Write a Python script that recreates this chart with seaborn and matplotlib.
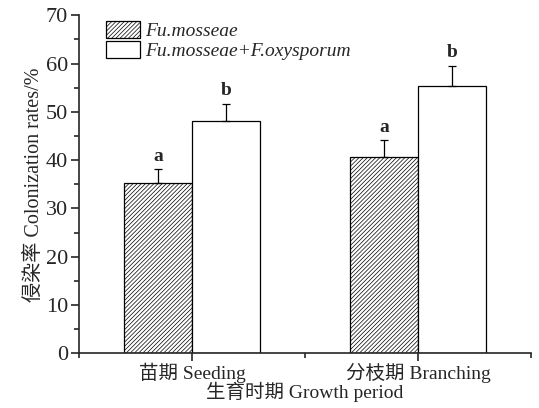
import numpy as np
import pandas as pd
import matplotlib
matplotlib.use('Agg')
import matplotlib.pyplot as plt
import seaborn as sns
from matplotlib.patches import Patch
from matplotlib.ticker import MultipleLocator

periods = ['苗期 Seeding', '分枝期 Branching']
treatments = ['Fu.mosseae', 'Fu.mosseae+F.oxysporum']
rate_fm = [35.3, 40.6]
rate_fmfo = [48.1, 55.3]
err_fm = [2.8, 3.6]
err_fmfo = [3.6, 4.3]
letters_fm = ['a', 'a']
letters_fmfo = ['b', 'b']

sns.set_style('ticks')
plt.rcParams['font.family'] = ['Liberation Serif', 'Noto Sans CJK SC']
plt.rcParams['hatch.linewidth'] = 0.5
plt.rcParams['axes.linewidth'] = 1.2

df = pd.DataFrame({
    'period': periods * 2,
    'treatment': [treatments[0]] * 2 + [treatments[1]] * 2,
    'rate': rate_fm + rate_fmfo,
})

fig = plt.figure(figsize=(5.39, 4.08), dpi=100)
ax = fig.add_axes([0.1466, 0.134, 0.8384, 0.8285])

sns.barplot(data=df, x='period', y='rate', hue='treatment', order=periods,
            hue_order=treatments, width=0.6, palette=['white', 'white'],
            edgecolor='black', linewidth=0.9, errorbar=None, legend=False, ax=ax)

hatch = '/' * 8
errs = [err_fm, err_fmfo]
letters = [letters_fm, letters_fmfo]
bar_groups = list(ax.containers)
for i, cont in enumerate(bar_groups):
    xs = [p.get_x() + p.get_width() / 2 for p in cont.patches]
    hs = [p.get_height() for p in cont.patches]
    if i == 0:
        for p in cont.patches:
            p.set_hatch(hatch)
    ax.errorbar(xs, hs, yerr=[np.zeros(len(hs)), errs[i]], fmt='none',
                ecolor='black', elinewidth=0.9, capsize=3.2, capthick=0.9)
    for x, h, e, t in zip(xs, hs, errs[i], letters[i]):
        ax.text(x, h + e + 0.9, t, ha='center', va='bottom', fontsize=14,
                fontweight='bold')

ax.set_xlim(-0.5, 1.5)
ax.set_ylim(0, 70)
ax.yaxis.set_major_locator(MultipleLocator(10))
ax.yaxis.set_minor_locator(MultipleLocator(5))
ax.xaxis.set_minor_locator(MultipleLocator(0.5))
ax.tick_params(axis='both', which='major', length=6, width=1.2, labelsize=16, pad=2)
ax.tick_params(axis='x', which='major', labelsize=14, pad=1)
ax.tick_params(axis='both', which='minor', length=3.5, width=1.2)
sns.despine(ax=ax)

ax.set_xlabel('生育时期 Growth period', fontsize=14, labelpad=-1)
ax.set_ylabel('侵染率 Colonization rates/%', fontsize=14.5, labelpad=1)

handles = [Patch(facecolor='white', edgecolor='black', hatch=hatch, linewidth=0.9),
           Patch(facecolor='white', edgecolor='black', linewidth=0.9)]
ax.legend(handles, treatments, loc='upper left', bbox_to_anchor=(0.02, 1.035),
          frameon=False, handlelength=1.75, handleheight=0.95, handletextpad=0.3,
          labelspacing=0.05, prop={'style': 'italic', 'size': 14})

fig.savefig('out.png', dpi=100)
